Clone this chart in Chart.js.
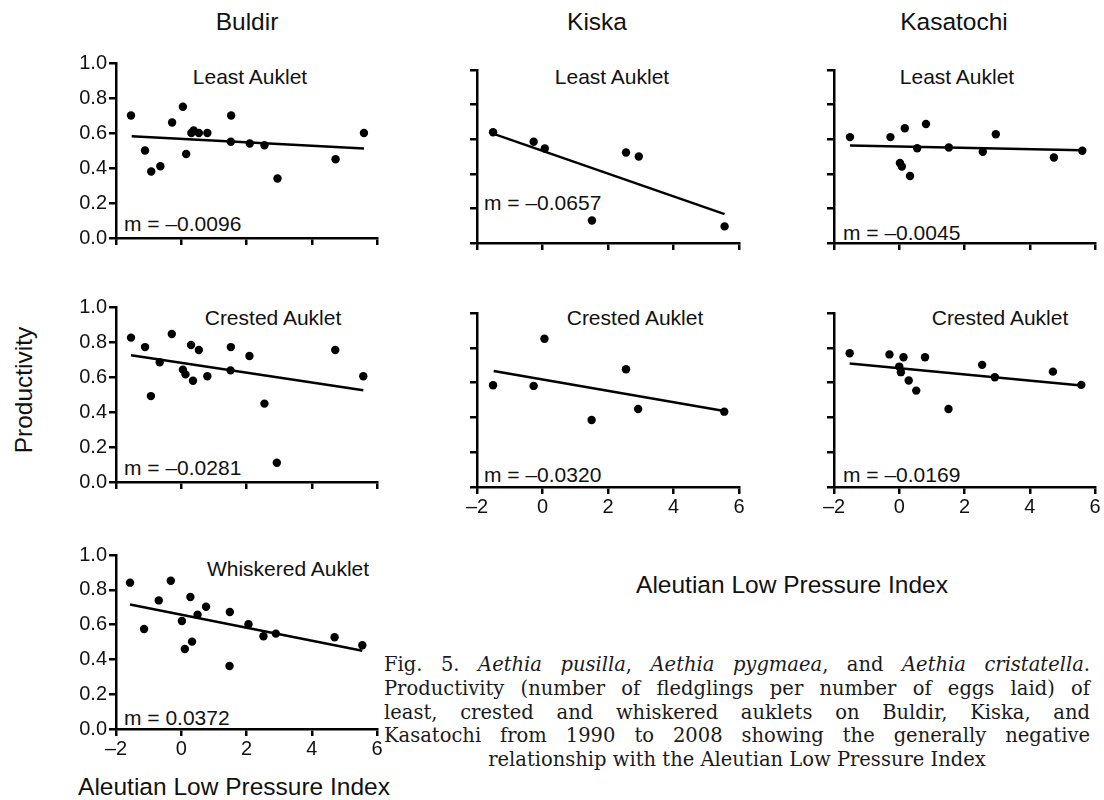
<!DOCTYPE html>
<html>
<head>
<meta charset="utf-8">
<script src="https://cdn.jsdelivr.net/npm/chart.js@4.4.1/dist/chart.umd.min.js"></script>
<style>
  html, body { margin: 0; padding: 0; background: #fff; }
  body { width: 1104px; height: 800px; position: relative; overflow: hidden;
         font-family: "Liberation Sans", Arial, sans-serif; color: #111; }
  canvas { position: absolute; }
  .t { position: absolute; white-space: nowrap; line-height: 1; transform: translate(-50%, -50%); }
  .m { position: absolute; white-space: nowrap; line-height: 1; transform: translateY(-50%); font-size: 21px; }
  .lbl { font-size: 21px; }
  .big { font-size: 24.5px; }
  #caption { position: absolute; left: 384px; top: 653px; width: 706px;
             font-family: "DejaVu Serif", serif; font-size: 19.5px; line-height: 23.8px; color: #1a1a1a; }
  #caption div { text-align: justify; text-align-last: justify; white-space: nowrap; }
  #caption div.last { text-align: center; text-align-last: center; }
</style>
</head>
<body>

<div class="t big" style="left:247px; top:22px;">Buldir</div>
<div class="t big" style="left:597px; top:22px;">Kiska</div>
<div class="t big" style="left:954px; top:22px;">Kasatochi</div>
<div class="t big" style="left:24px; top:390px; transform: translate(-50%, -50%) rotate(-90deg);">Productivity</div>
<div class="t big" style="left:792px; top:585px;">Aleutian Low Pressure Index</div>
<div class="t big" style="left:234px; top:787px;">Aleutian Low Pressure Index</div>

<div class="t lbl" style="left:250px; top:76px;">Least Auklet</div>
<div class="t lbl" style="left:612px; top:76px;">Least Auklet</div>
<div class="t lbl" style="left:957px; top:76px;">Least Auklet</div>
<div class="t lbl" style="left:273px; top:317px;">Crested Auklet</div>
<div class="t lbl" style="left:635px; top:317px;">Crested Auklet</div>
<div class="t lbl" style="left:1000px; top:317px;">Crested Auklet</div>
<div class="t lbl" style="left:288px; top:568px;">Whiskered Auklet</div>

<div class="m" style="left:124px; top:223px;">m = –0.0096</div>
<div class="m" style="left:484px; top:202px;">m = –0.0657</div>
<div class="m" style="left:843px; top:232px;">m = –0.0045</div>
<div class="m" style="left:124px; top:467px;">m = –0.0281</div>
<div class="m" style="left:484px; top:474px;">m = –0.0320</div>
<div class="m" style="left:843px; top:474px;">m = –0.0169</div>
<div class="m" style="left:124px; top:717px;">m = 0.0372</div>

<div id="caption">
  <div>Fig. 5. <i>Aethia pusilla</i>, <i>Aethia pygmaea</i>, and <i>Aethia cristatella</i>.</div>
  <div>Productivity (number of fledglings per number of eggs laid) of</div>
  <div>least, crested and whiskered auklets on Buldir, Kiska, and</div>
  <div>Kasatochi from 1990 to 2008 showing the generally negative</div>
  <div class="last">relationship with the Aleutian Low Pressure Index</div>
</div>

<script>
// tick labels
const xTickLabels = ['–2', '0', '2', '4', '6'];
const yTickLabels = ['0.0', '0.2', '0.4', '0.6', '0.8', '1.0'];

// [Aleutian Low Pressure Index, productivity]
const buldirLeast = [[-1.54, 0.70], [-1.11, 0.50], [-0.92, 0.38], [-0.64, 0.41], [-0.28, 0.66],
  [0.05, 0.75], [0.15, 0.48], [0.31, 0.60], [0.38, 0.615], [0.54, 0.60], [0.80, 0.60],
  [1.53, 0.70], [1.52, 0.55], [2.10, 0.54], [2.55, 0.53], [2.95, 0.34], [4.73, 0.45], [5.60, 0.60]];
const buldirLeastFit = [[-1.52, 0.581], [5.60, 0.512]];

const kiskaLeast = [[-1.51, 0.64], [-0.27, 0.585], [0.07, 0.546], [1.51, 0.13], [2.55, 0.523],
  [2.94, 0.50], [5.56, 0.096]];
const kiskaLeastFit = [[-1.49, 0.631], [5.56, 0.167]];

const kasatochiLeast = [[-1.51, 0.612], [-0.27, 0.612], [0.17, 0.663], [0.02, 0.462], [0.08, 0.442],
  [0.33, 0.387], [0.55, 0.548], [0.82, 0.688], [1.52, 0.552], [2.56, 0.527], [2.96, 0.629],
  [4.74, 0.494], [5.61, 0.533]];
const kasatochiLeastFit = [[-1.51, 0.564], [5.61, 0.536]];

const buldirCrested = [[-1.54, 0.825], [-1.11, 0.771], [-0.93, 0.491], [-0.66, 0.684], [-0.29, 0.846],
  [0.05, 0.642], [0.13, 0.615], [0.30, 0.783], [0.36, 0.579], [0.54, 0.754], [0.80, 0.604],
  [1.52, 0.771], [1.51, 0.638], [2.09, 0.72], [2.55, 0.448], [2.93, 0.11], [4.72, 0.754], [5.58, 0.604]];
const buldirCrestedFit = [[-1.54, 0.724], [5.58, 0.524]];

const kiskaCrested = [[-1.51, 0.585], [-0.27, 0.581], [0.06, 0.852], [1.50, 0.385], [2.55, 0.677],
  [2.92, 0.448], [5.55, 0.433]];
const kiskaCrestedFit = [[-1.49, 0.667], [5.55, 0.437]];

const kasatochiCrested = [[-1.52, 0.769], [-0.30, 0.762], [0.13, 0.746], [0.79, 0.746], [0.00, 0.692],
  [0.05, 0.66], [0.29, 0.612], [0.52, 0.554], [1.51, 0.448], [2.54, 0.702], [2.93, 0.631],
  [4.71, 0.663], [5.58, 0.587]];
const kasatochiCrestedFit = [[-1.52, 0.71], [5.58, 0.583]];

const buldirWhiskered = [[-1.57, 0.841], [-1.14, 0.575], [-0.69, 0.739], [-0.32, 0.852], [0.02, 0.621],
  [0.11, 0.46], [0.28, 0.759], [0.33, 0.502], [0.50, 0.657], [0.76, 0.703], [1.49, 0.672],
  [1.48, 0.362], [2.06, 0.602], [2.52, 0.533], [2.90, 0.548], [4.70, 0.527], [5.55, 0.481]];
const buldirWhiskeredFit = [[-1.57, 0.715], [5.55, 0.45]];

// room around each plot area, inside its canvas
const PAD_L = 60, PAD_T = 14, PAD_R = 16, PAD_B = 34;
const tickFont = { family: 'Liberation Sans', size: 20 };

function toXY(arr) {
    return arr.map(p => ({ x: p[0], y: p[1] }));
}

function panel(pts, fit, box, showX, showY) {
    const cv = document.createElement('canvas');
    cv.width = box.w + PAD_L + PAD_R;
    cv.height = box.h + PAD_T + PAD_B;
    cv.style.left = (box.left - PAD_L) + 'px';
    cv.style.top = (box.top - PAD_T) + 'px';
    document.body.appendChild(cv);

    new Chart(cv.getContext('2d'), {
        type: 'scatter',
        data: {
            datasets: [{
                data: toXY(pts),
                backgroundColor: '#000',
                borderWidth: 0,
                pointRadius: 4.2
            }, {
                type: 'line',
                data: toXY(fit),
                borderColor: '#000',
                borderWidth: 2.5,
                pointRadius: 0,
                fill: false
            }]
        },
        options: {
            responsive: false,
            animation: false,
            layout: { padding: { left: 0, top: PAD_T, right: PAD_R, bottom: 0 } },
            plugins: { legend: { display: false }, tooltip: { enabled: false } },
            scales: {
                x: {
                    type: 'linear', min: -2, max: 6,
                    afterFit: s => { s.height = PAD_B; },
                    ticks: {
                        stepSize: 2, padding: 1, color: '#111', font: tickFont,
                        maxRotation: 0, autoSkip: false,
                        callback: v => showX ? xTickLabels[(v + 2) / 2] : ''
                    },
                    grid: { drawOnChartArea: false, drawTicks: true, tickLength: 7, color: '#000', lineWidth: 2.5 },
                    border: { display: true, color: '#000', width: 2.5 }
                },
                y: {
                    min: 0, max: 1,
                    afterFit: s => { s.width = PAD_L; },
                    ticks: {
                        stepSize: 0.2, padding: 2, color: '#111', font: tickFont,
                        callback: v => showY ? yTickLabels[Math.round(v * 5)] : ''
                    },
                    grid: { drawOnChartArea: false, drawTicks: true, tickLength: 7, color: '#000', lineWidth: 2.5 },
                    border: { display: true, color: '#000', width: 2.5 }
                }
            }
        }
    });
}

panel(buldirLeast, buldirLeastFit, { left: 116, top: 63, w: 261, h: 175 }, false, true);
panel(buldirCrested, buldirCrestedFit, { left: 116, top: 307, w: 261, h: 175 }, false, true);
panel(buldirWhiskered, buldirWhiskeredFit, { left: 116, top: 555, w: 261, h: 174 }, true, true);
panel(kiskaLeast, kiskaLeastFit, { left: 477, top: 70, w: 262, h: 173 }, false, false);
panel(kiskaCrested, kiskaCrestedFit, { left: 477, top: 313, w: 262, h: 174 }, true, false);
panel(kasatochiLeast, kasatochiLeastFit, { left: 834, top: 70, w: 261, h: 173 }, false, false);
panel(kasatochiCrested, kasatochiCrestedFit, { left: 834, top: 313, w: 261, h: 174 }, true, false);
</script>
</body>
</html>
